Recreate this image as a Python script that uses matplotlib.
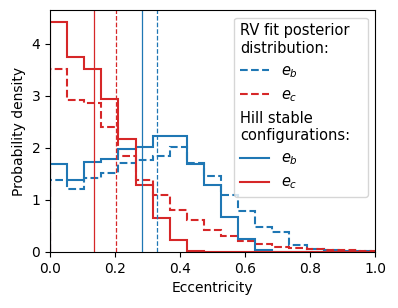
import numpy as np
import matplotlib
matplotlib.use("Agg")
import matplotlib.pyplot as plt
from matplotlib.lines import Line2D

# ---- data ----
bin_edges = np.linspace(0.0, 1.0, 20)

rv_eb = [1.39, 1.21, 1.42, 1.51, 1.70, 1.77, 1.85, 2.01, 1.70, 1.45,
         1.09, 0.79, 0.48, 0.38, 0.14, 0.06, 0.045, 0.025, 0.01]
rv_ec = [3.51, 2.91, 2.87, 2.39, 1.85, 1.38, 1.10, 0.81, 0.61, 0.42,
         0.30, 0.21, 0.15, 0.10, 0.07, 0.05, 0.04, 0.03, 0.02]
hill_eb = [1.69, 1.39, 1.72, 1.79, 1.97, 2.02, 2.22, 2.23, 1.69, 1.28,
           0.68, 0.24, 0.045, 0.0, 0.0, 0.0, 0.0, 0.0, 0.0]
hill_ec = [4.42, 3.75, 3.51, 2.93, 2.16, 1.28, 0.65, 0.23, 0.012, 0.006,
           0.004, 0.003, 0.002, 0.002, 0.001, 0.001, 0.001, 0.001, 0.001]

median_rv_eb = 0.330
median_rv_ec = 0.204
median_hill_eb = 0.282
median_hill_ec = 0.136

blue = "#1f77b4"
red = "#d62728"

fig = plt.figure(figsize=(3.98, 3.08), dpi=100)
ax = fig.add_axes([0.1256, 0.182, 0.8166, 0.7846])

ax.stairs(rv_eb, bin_edges, color=blue, ls="--", lw=1.5)
ax.stairs(rv_ec, bin_edges, color=red, ls="--", lw=1.5)
ax.stairs(hill_eb, bin_edges, color=blue, ls="-", lw=1.5)
ax.stairs(hill_ec, bin_edges, color=red, ls="-", lw=1.5)

ax.axvline(median_rv_eb, color=blue, ls="--", lw=0.9)
ax.axvline(median_rv_ec, color=red, ls="--", lw=0.9)
ax.axvline(median_hill_eb, color=blue, ls="-", lw=0.9)
ax.axvline(median_hill_ec, color=red, ls="-", lw=0.9)

ax.set_xlim(0, 1)
ax.set_ylim(0, max(hill_ec) * 1.05)
ax.set_xlabel("Eccentricity")
ax.set_ylabel("Probability density")

blank = Line2D([], [], color="none")
handles = [blank,
           Line2D([], [], color=blue, ls="--", lw=1.5),
           Line2D([], [], color=red, ls="--", lw=1.5),
           blank,
           Line2D([], [], color=blue, ls="-", lw=1.5),
           Line2D([], [], color=red, ls="-", lw=1.5)]
labels = ["RV fit posterior\ndistribution:", r"$e_b$", r"$e_c$",
          "Hill stable\nconfigurations:", r"$e_b$", r"$e_c$"]
leg_fs = 10.5
leg = ax.legend(handles, labels, loc="upper right", fontsize=leg_fs)

sep_px = leg.handletextpad * leg_fs * fig.dpi / 72.0
rows = leg._legend_handle_box.get_children()[0].get_children()
for i in (0, 3):
    rows[i].get_children()[0].set_width(0)
    rows[i].get_children()[1]._text.set_x(-sep_px)

fig.savefig("out.png", dpi=100)
